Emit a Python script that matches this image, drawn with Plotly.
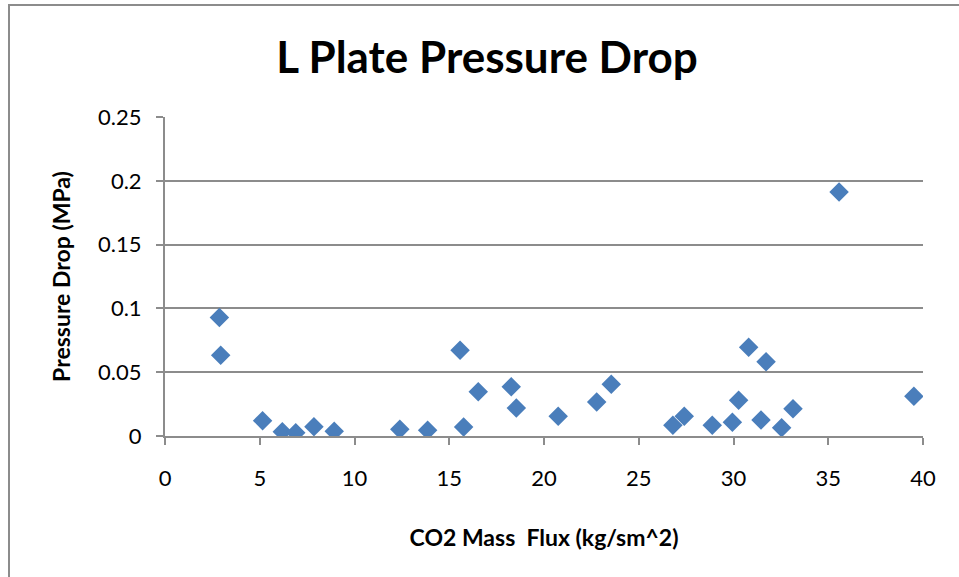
import plotly.graph_objects as go

# CO2 mass flux (kg/s m^2) and measured pressure drop (MPa) for the L plate
mass_flux = [2.87, 2.94, 5.15, 6.19, 6.90, 7.86, 8.93, 12.39, 13.86,
             15.57, 15.76, 16.53, 18.27, 18.54, 20.75, 22.78, 23.55,
             26.80, 27.40, 28.88, 29.94, 30.27, 30.80, 31.45, 31.72,
             32.54, 33.14, 35.57, 39.52]
pressure_drop = [0.0929, 0.0632, 0.0120, 0.0034, 0.0026, 0.0073, 0.0037, 0.0052, 0.0045,
                 0.0673, 0.0070, 0.0347, 0.0386, 0.0219, 0.0154, 0.0266, 0.0405,
                 0.0084, 0.0154, 0.0084, 0.0107, 0.0280, 0.0695, 0.0125, 0.0582,
                 0.0065, 0.0214, 0.1913, 0.0311]

x_ticks = [0, 5, 10, 15, 20, 25, 30, 35, 40]
y_ticks = [0, 0.05, 0.1, 0.15, 0.2, 0.25]
y_tick_text = ["0", "0.05", "0.1", "0.15", "0.2", "0.25"]

FONT = "Lato, 'Open Sans', sans-serif"
GRID = "#8c8c8c"

fig = go.Figure(
    go.Scatter(
        x=mass_flux,
        y=pressure_drop,
        mode="markers",
        marker=dict(symbol="diamond", size=15, color="#4a7ebb",
                    line=dict(width=0)),
        showlegend=False,
    )
)

fig.update_layout(
    width=959,
    height=577,
    margin=dict(l=165, r=36, t=117, b=141),
    paper_bgcolor="white",
    plot_bgcolor="white",
    title=dict(
        text="<b>L Plate Pressure Drop</b>",
        font=dict(family=FONT, size=44, color="black"),
        x=487 / 959, xref="container", xanchor="center",
        y=1 - 58 / 577, yref="container", yanchor="middle",
    ),
    xaxis=dict(
        range=[0, 40],
        tickvals=x_ticks,
        ticks="outside", ticklen=7, tickwidth=2, tickcolor=GRID,
        showline=True, linecolor=GRID, linewidth=2,
        showgrid=False, zeroline=False,
        tickfont=dict(family=FONT, size=22, color="black"),
        ticklabelstandoff=15,
        title=dict(text="<b>CO2 Mass\u00a0 Flux (kg/sm^2)</b>",
                   font=dict(family=FONT, size=23, color="black"),
                   standoff=39),
    ),
    yaxis=dict(
        range=[0, 0.25],
        tickvals=y_ticks,
        ticktext=y_tick_text,
        ticks="outside", ticklen=7, tickwidth=2, tickcolor=GRID,
        showline=True, linecolor=GRID, linewidth=2,
        showgrid=True, gridcolor=GRID, gridwidth=1.5,
        zeroline=False,
        tickfont=dict(family=FONT, size=22, color="black"),
        ticklabelstandoff=10,
        title=dict(text="<b>Pressure Drop (MPa)</b>",
                   font=dict(family=FONT, size=23, color="black"),
                   standoff=21),
    ),
)

# Outer chart-area frame (top and left edges visible in the window)
fig.add_shape(
    type="rect", xref="paper", yref="paper",
    x0=(9 - 165) / 758, x1=(962 - 165) / 758,
    y0=(436 - 582) / 319, y1=(436 - 5) / 319,
    line=dict(color=GRID, width=2), fillcolor="rgba(0,0,0,0)",
    layer="below",
)

fig.write_html("out.html")
